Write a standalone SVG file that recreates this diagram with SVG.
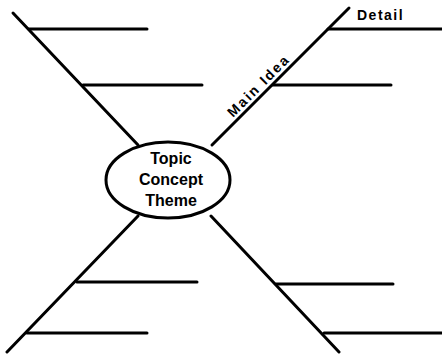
<svg xmlns="http://www.w3.org/2000/svg" width="442" height="354" viewBox="0 0 442 354">
<style>
.ln{stroke:#000;stroke-width:3;stroke-linecap:round;fill:none}
.br{stroke:#000;stroke-width:3;stroke-linecap:round;fill:none}
.t{font-family:"Liberation Sans",Arial,sans-serif;font-weight:bold;fill:#000}
</style>
<rect width="442" height="354" fill="#fff"/>
<g id="connectors">
<line class="ln" x1="13" y1="13" x2="138" y2="145"/>
<line class="ln" x1="349" y1="8" x2="212" y2="145"/>
<line class="ln" x1="138" y1="216" x2="7" y2="352"/>
<line class="ln" x1="211" y1="216" x2="339" y2="352"/>
<line class="br" x1="29" y1="29" x2="147" y2="29"/>
<line class="br" x1="83" y1="85" x2="202" y2="85"/>
<line class="br" x1="328" y1="29" x2="442" y2="29"/>
<line class="br" x1="273" y1="85" x2="391" y2="85"/>
<line class="br" x1="77" y1="282" x2="197" y2="282"/>
<line class="br" x1="27" y1="333" x2="147" y2="333"/>
<line class="br" x1="276" y1="284" x2="393" y2="284"/>
<line class="br" x1="324" y1="333" x2="442" y2="333"/>
</g>
<g id="topic">
<ellipse cx="168" cy="180" rx="62" ry="38" fill="#fff" stroke="#000" stroke-width="3"/>
<text class="t" x="171" y="164" font-size="16" text-anchor="middle">Topic</text>
<text class="t" x="171" y="185" font-size="16" text-anchor="middle">Concept</text>
<text class="t" x="171" y="206" font-size="16" text-anchor="middle">Theme</text>
</g>
<g id="main-idea">
<text class="t" font-size="14" letter-spacing="2" text-anchor="middle" transform="translate(262,89) rotate(-45)">Main Idea</text>
</g>
<g id="detail">
<text class="t" x="357" y="20" font-size="14" letter-spacing="1.5">Detail</text>
</g>
</svg>
